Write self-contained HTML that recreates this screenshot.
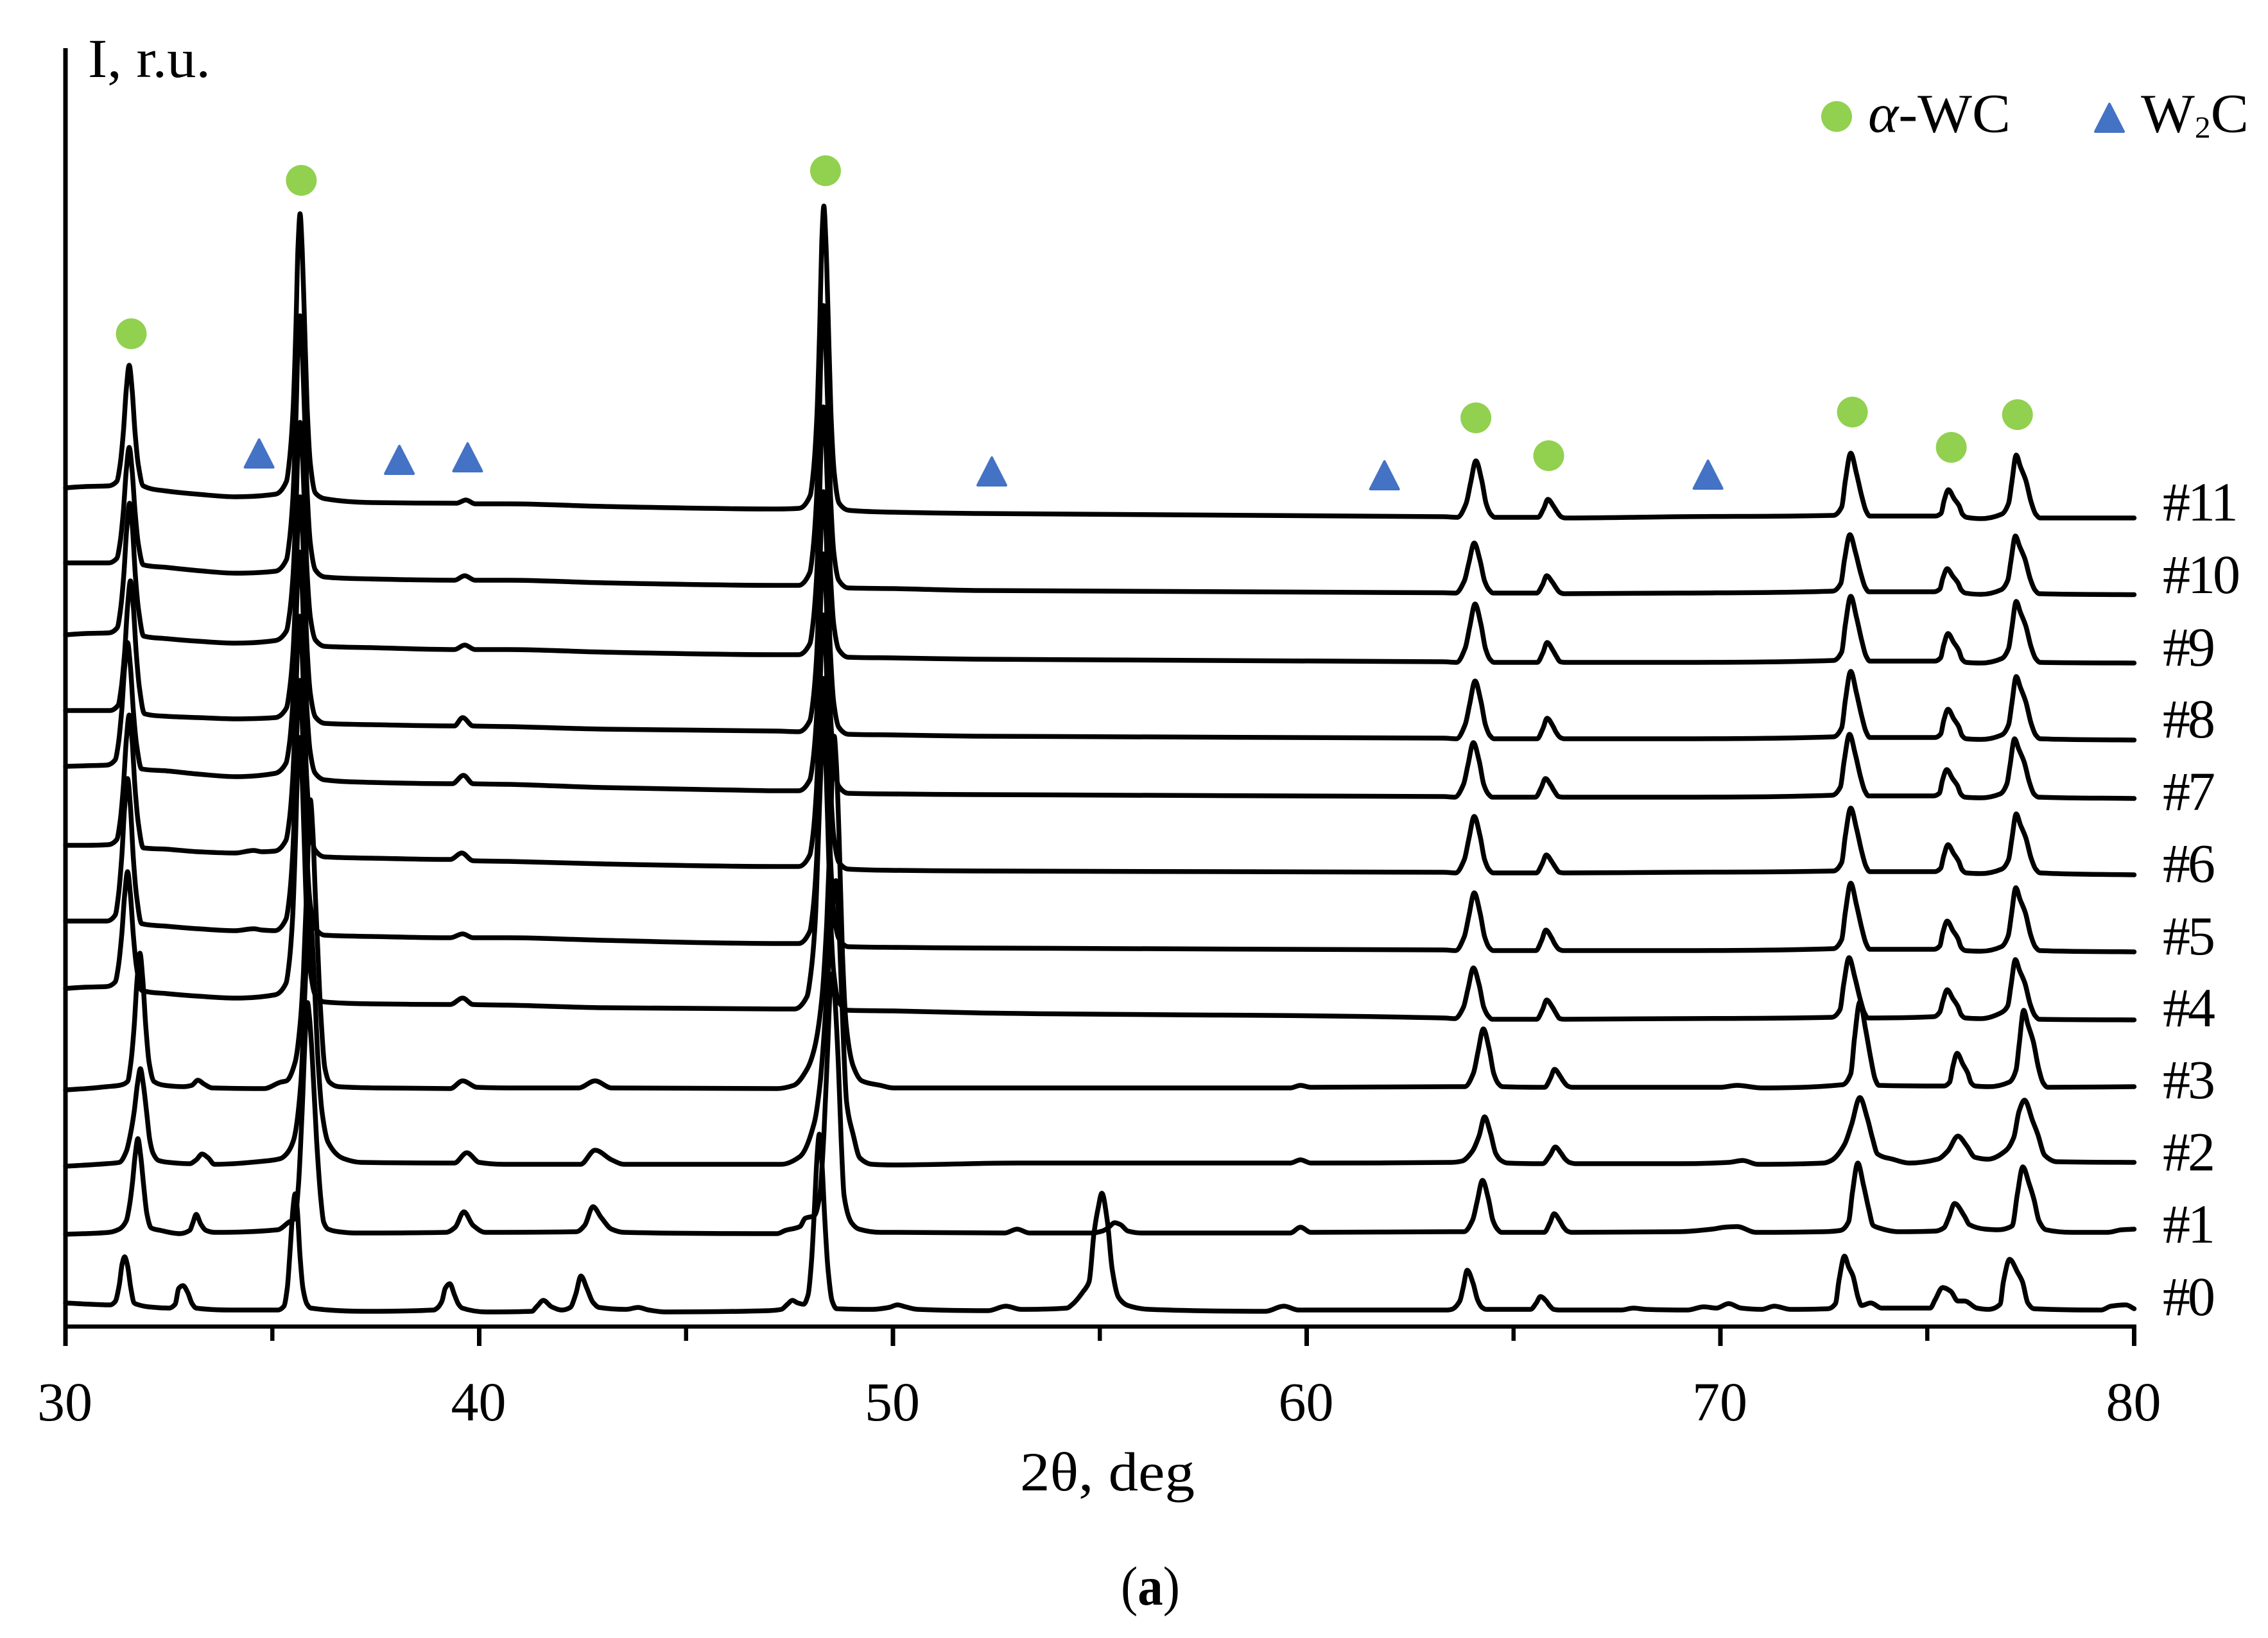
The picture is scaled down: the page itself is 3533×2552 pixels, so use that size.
<!DOCTYPE html>
<html lang="en">
<head>
<meta charset="utf-8">
<title>XRD patterns #0–#11</title>
<style>
html,body{margin:0;padding:0;background:#fff;}
svg{display:block;font-family:"Liberation Serif",serif;}
text{fill:#000;}
</style>
</head>
<body>
<svg id="chart" xmlns="http://www.w3.org/2000/svg" width="3533" height="2552" viewBox="0 0 3533 2552">
  <rect width="3533" height="2552" fill="#fff"/>
  <g id="series-layer"></g>
  <g id="marker-layer"></g>
  <g id="axis-layer"></g>
  <g id="label-layer"></g>
  <text x="137" y="120" font-size="86" textLength="191" lengthAdjust="spacingAndGlyphs">I, r.u.</text>
  <text x="1589" y="2322" font-size="86" textLength="272" lengthAdjust="spacingAndGlyphs">2θ, deg</text>
  <text x="1746" y="2500" font-size="86" textLength="92" lengthAdjust="spacingAndGlyphs">(<tspan font-weight="bold">a</tspan>)</text>
  <g>
    <circle cx="2861" cy="181.5" r="24" fill="#92D050"/>
    <text x="2910" y="205.5" font-size="86" textLength="222" lengthAdjust="spacingAndGlyphs"><tspan font-style="italic">α</tspan>-WC</text>
    <polygon points="3286,162 3308,205 3264,205" fill="#4472C4" stroke="#4472C4" stroke-width="4" stroke-linejoin="round"/>
    <text x="3335" y="205.5" font-size="86" textLength="168" lengthAdjust="spacingAndGlyphs">W<tspan font-size="48" dy="9">2</tspan><tspan dy="-9">C</tspan></text>
  </g>
</svg>
<script>
const xTickValues = [30, 40, 50, 60, 70, 80];
const xMinorTickValues = [35, 45, 55, 65, 75];
const seriesLabels = ['#0','#1','#2','#3','#4','#5','#6','#7','#8','#9','#10','#11'];
const labelIntensity = [1.8, 13.1, 24.35, 35.6, 46.8, 58, 69.3, 80.5, 91.8, 103, 114.3, 125.6];

// phase markers: [2θ, intensity]
const wcMarkers = [[31.59,154.7],[35.70,178.6],[48.37,180.1],[64.09,141.6],[65.85,135.7],[73.19,142.5],[75.58,137],[77.18,142.1]];
const w2cMarkers = [[34.68,133.7],[38.07,132.7],[39.72,133.1],[52.39,130.9],[61.88,130.3],[69.70,130.4]];

// diffraction patterns: [2θ, intensity]
const series0 = [[30,3.7],[30.6,3.5],[31.08,3.4],[31.2,3.9],[31.3,6.5],[31.37,9.8],[31.43,10.9],[31.5,9.5],[31.58,6],[31.66,3.7],[31.72,3.5],[32,3.1],[32.5,2.9],[32.65,3.5],[32.74,6],[32.84,6.4],[32.95,5.4],[33.06,3.6],[33.16,2.9],[34,2.6],[35.13,2.6],[35.28,3.2],[35.36,6],[35.43,12],[35.5,18.5],[35.55,20.7],[35.6,18.5],[35.67,11],[35.74,6],[35.84,3.5],[35.93,2.9],[37.3,2.4],[38.9,2.6],[39,3],[39.1,4],[39.18,6],[39.29,6.7],[39.4,5],[39.5,3.5],[39.59,2.9],[40.18,2.3],[41.27,2.4],[41.4,3.2],[41.55,4.1],[41.75,3.1],[42,2.6],[42.2,3],[42.33,5],[42.46,7.9],[42.6,6],[42.75,3.8],[42.9,3],[43.55,2.7],[43.84,3],[44.1,2.6],[44.5,2.3],[47,2.5],[47.3,2.7],[47.45,3.5],[47.57,4.1],[47.7,3.7],[47.84,3.5],[47.95,5],[48.03,10],[48.1,18],[48.17,27],[48.22,30],[48.28,26],[48.35,17],[48.43,9],[48.53,4],[48.64,2.8],[49.5,2.7],[49.9,3],[50.11,3.4],[50.3,3.1],[50.6,2.7],[52.3,2.5],[52.73,3.2],[53.1,2.7],[54.2,2.9],[54.34,3.5],[54.6,5.5],[54.74,7],[54.86,14.6],[54.96,18.5],[55.05,20.8],[55.18,16.5],[55.3,8.9],[55.45,4.6],[55.68,3.3],[56.2,2.7],[59,2.4],[59.45,3.2],[59.8,2.6],[63.4,2.6],[63.5,2.7],[63.7,4],[63.78,6],[63.88,8.8],[64.02,6.8],[64.13,4.2],[64.24,3],[64.34,2.7],[65.41,2.7],[65.55,3.7],[65.65,4.7],[65.79,4],[65.87,3.3],[65.97,2.7],[66.1,2.6],[67.6,2.6],[67.9,2.9],[68.2,2.7],[69.2,2.6],[69.6,3.1],[69.9,2.9],[70.2,3.6],[70.5,2.9],[71,2.7],[71.3,3.2],[71.7,2.7],[72.6,2.8],[72.78,3.6],[72.87,7.4],[73,11],[73.1,9.3],[73.2,8],[73.33,4.5],[73.41,3.3],[73.63,3.7],[73.9,2.9],[75.07,2.9],[75.19,4.2],[75.37,6.1],[75.57,5.5],[75.74,4],[75.9,4],[76.2,2.9],[76.47,2.7],[76.76,3.5],[76.84,7],[76.99,10.5],[77.18,8.5],[77.3,7],[77.43,3.7],[77.58,2.8],[79.2,2.6],[79.44,3.2],[79.8,3.4],[80,2.8]];

const series1 = [[30,14.4],[31.05,14.7],[31.3,15.2],[31.47,16.5],[31.55,19],[31.62,22.5],[31.68,26.5],[31.75,29.3],[31.82,26.5],[31.89,22],[31.97,17.5],[32.07,15.4],[32.3,15],[32.76,14.5],[33,15],[33.08,16.2],[33.16,17.5],[33.27,16],[33.4,15],[33.6,14.7],[35.13,15.1],[35.4,16.3],[35.55,16.9],[35.63,22],[35.72,33.6],[35.8,46],[35.85,50.5],[35.9,48],[35.96,42.5],[36.07,29],[36.17,20],[36.24,16.3],[36.35,15.2],[36.6,14.8],[37,14.6],[39.2,14.7],[39.42,15.5],[39.63,17.9],[39.85,15.8],[40.15,14.7],[42.35,14.8],[42.55,15.8],[42.75,18.7],[42.95,17],[43.2,15.2],[43.5,14.7],[47.2,14.5],[47.4,15],[47.75,15.6],[47.88,16.9],[48.1,17.3],[48.23,20.4],[48.33,29.9],[48.42,43],[48.48,52],[48.53,55],[48.58,52.5],[48.68,41],[48.75,29],[48.82,20.4],[49,16.2],[49.18,15.2],[49.7,14.7],[50,14.7],[52.7,14.6],[53,15.2],[53.3,14.6],[54.8,14.6],[55.06,14.9],[55.2,15.4],[55.36,16.2],[55.5,15.9],[55.68,14.9],[56,14.6],[59.6,14.6],[59.85,15.5],[60.1,14.7],[63.5,14.8],[63.8,14.8],[64.01,16.6],[64.12,19.5],[64.25,22.8],[64.39,20],[64.5,16.6],[64.61,15.2],[64.71,14.7],[65.74,14.7],[65.88,16.2],[65.98,17.6],[66.12,16.5],[66.2,15.6],[66.3,14.9],[66.4,14.7],[69,14.8],[69.8,15.2],[70.1,15.5],[70.4,15.6],[70.86,14.7],[72.5,14.8],[72.9,15],[73.1,16.4],[73.19,20.9],[73.32,25.5],[73.46,22],[73.59,18.2],[73.69,15.8],[73.78,15.5],[74.3,14.8],[75.2,14.9],[75.4,15.4],[75.52,17],[75.66,19.2],[75.9,17.2],[76.02,15.9],[76.4,15.2],[76.7,15.1],[77.05,15.7],[77.18,20.8],[77.31,24.9],[77.46,22.3],[77.58,19.8],[77.7,16.5],[77.87,15.1],[78.5,14.7],[79.35,14.7],[79.7,15.1],[80,15.2]];

const series2 = [[30,25],[31,25.4],[31.3,25.6],[31.47,27.3],[31.57,30],[31.66,33.5],[31.74,37.8],[31.81,40.2],[31.88,37.8],[31.96,33.5],[32.04,29],[32.12,27],[32.25,25.9],[32.5,25.6],[33,25.4],[33.16,26],[33.3,26.9],[33.45,26.3],[33.6,25.3],[34.8,25.8],[35.2,26.2],[35.34,26.9],[35.51,29],[35.69,38],[35.76,48],[35.84,60],[35.9,66.4],[35.95,62],[36.02,53],[36.1,42],[36.2,33.5],[36.35,28.7],[36.72,26.2],[37.14,25.6],[39.4,25.5],[39.7,27.1],[40,25.6],[40.6,25.3],[42.45,25.3],[42.8,27.5],[43.2,26],[43.5,25.3],[47.3,25.3],[47.75,26.5],[48.1,31.8],[48.24,38],[48.34,46],[48.44,56],[48.54,65],[48.62,69.5],[48.67,66],[48.74,55],[48.8,45],[48.88,35],[49.04,29.9],[49.2,26.3],[49.5,25.3],[50,25.2],[53,25.5],[59.6,25.5],[59.85,26],[60.1,25.5],[63.5,25.6],[63.75,25.8],[64,27.3],[64.17,29.8],[64.3,32.7],[64.44,30.2],[64.57,27],[64.7,25.9],[64.85,25.5],[65.7,25.4],[65.88,26.7],[66.01,28],[66.15,27],[66.25,26.1],[66.35,25.6],[66.5,25.4],[69,25.4],[70.2,25.6],[70.54,25.9],[70.9,25.3],[72.5,25.5],[72.68,25.9],[73,28.4],[73.17,31.5],[73.37,35.7],[73.55,32.5],[73.67,29.5],[73.8,26.9],[74.16,26.1],[74.57,25.5],[75.25,26.1],[75.5,27.4],[75.74,29.7],[75.95,28.2],[76.15,26.4],[76.47,26.1],[76.89,27.4],[77.09,29.5],[77.22,33.6],[77.35,35.3],[77.55,32],[77.67,30],[77.84,26.7],[78.13,25.7],[80,25.6]];

const series3 = [[30,36.9],[30.5,37.1],[31,37.4],[31.3,37.6],[31.5,38.2],[31.58,41.1],[31.66,46.8],[31.73,54],[31.8,58.2],[31.87,54],[31.94,46.9],[32.02,41.2],[32.14,38.2],[32.4,37.6],[32.85,37.4],[33.05,37.6],[33.2,38.4],[33.35,37.8],[33.55,37.2],[34.8,37.1],[35.2,38.1],[35.34,38.3],[35.55,41.2],[35.67,47],[35.75,55],[35.84,70],[35.92,82.1],[35.98,77],[36.04,67],[36.09,60],[36.16,50],[36.27,40.3],[36.38,38.1],[36.6,37.4],[37.5,37.2],[39.3,37.1],[39.6,38.3],[39.95,37.3],[40.7,37.2],[42.4,37.2],[42.8,38.3],[43.2,37.2],[47.2,37.1],[47.6,37.6],[47.93,40.2],[48.1,43.3],[48.28,51],[48.4,63],[48.5,80],[48.58,92],[48.63,88],[48.7,76],[48.78,58],[48.87,47],[49.04,40.6],[49.25,38.3],[49.7,37.6],[50,37.2],[59.6,37.2],[59.85,37.6],[60.1,37.3],[63.5,37.4],[63.82,37.4],[64.03,39.5],[64.14,42.8],[64.27,46.4],[64.41,43.3],[64.52,39.5],[64.63,37.9],[64.73,37.4],[65.75,37.3],[65.89,38.7],[65.99,40.1],[66.13,39],[66.21,38.2],[66.31,37.5],[66.41,37.3],[70,37.3],[70.4,37.6],[71,37.2],[72.95,37.7],[73.15,39.4],[73.24,44.9],[73.37,50.6],[73.51,46.3],[73.64,41.6],[73.74,38.6],[73.83,37.6],[75.4,37.5],[75.54,38.1],[75.62,40.6],[75.72,42.6],[75.86,40.9],[75.98,39.5],[76.06,38],[76.16,37.5],[76.5,37.4],[76.98,38.1],[77.145,40],[77.22,43.9],[77.33,49.3],[77.43,47.1],[77.56,44.5],[77.69,40.3],[77.8,38],[77.91,37.3],[80,37.4]];

const series4 = [[30,52.7],[30.5,52.9],[31,53],[31.2,53.7],[31.28,56.2],[31.36,61.1],[31.43,67.3],[31.5,70.9],[31.57,67.3],[31.64,61],[31.72,55.9],[31.84,52.4],[32.44,51.9],[33.2,51.5],[34.1,51.2],[35.06,51.7],[35.33,53.5],[35.41,56.9],[35.49,63.7],[35.56,75.8],[35.61,87],[35.66,91.8],[35.71,86.9],[35.76,77.8],[35.83,64.2],[35.91,56],[36.03,51.8],[36.26,50.6],[37.4,50.3],[39.3,50.2],[39.6,51.2],[39.85,50.2],[40.7,50.1],[43,49.7],[47.2,49.5],[47.62,49.5],[47.92,51.4],[48.02,55.3],[48.12,62.9],[48.2,76.5],[48.27,89.1],[48.32,94.5],[48.37,89.1],[48.42,79.1],[48.49,64.1],[48.57,55.1],[48.69,50.6],[48.92,49.3],[50,49.2],[52,48.9],[63.31,48.1],[63.58,48],[63.79,49.8],[63.9,52.7],[64.03,55.9],[64.17,53.2],[64.28,49.8],[64.39,48.4],[64.49,47.9],[65.56,47.9],[65.7,49.4],[65.8,50.9],[65.94,49.8],[66.02,48.9],[66.12,48],[66.22,47.9],[69,48],[72.69,48.2],[72.89,49.4],[72.98,53.4],[73.11,57.5],[73.25,54.4],[73.38,51],[73.48,48.9],[73.57,48.1],[75.16,48.3],[75.3,49],[75.38,50.8],[75.48,52.5],[75.62,51.1],[75.74,49.9],[75.82,48.6],[75.92,48.1],[76.3,48],[76.78,48.9],[76.945,50],[77.02,53],[77.13,57.2],[77.23,55.5],[77.36,53.5],[77.49,50.2],[77.6,48.5],[77.71,47.9],[80,47.8]];

const series5 = [[30,63.2],[30.5,63.2],[31,63.2],[31.2,64.1],[31.28,67.2],[31.36,73.2],[31.43,81],[31.5,85.4],[31.57,81],[31.64,73],[31.72,67],[31.84,62.8],[32.44,62.4],[33.2,62],[34.1,61.7],[34.55,62],[34.75,61.8],[35.06,61.7],[35.33,63.5],[35.41,66.8],[35.49,73.4],[35.56,85.1],[35.61,96],[35.66,100.7],[35.71,95.9],[35.76,87.2],[35.83,74.1],[35.91,66.2],[36.03,62.2],[36.26,61],[37.4,60.8],[39.3,60.6],[39.6,61.2],[39.85,60.6],[40.7,60.6],[43,60.2],[47.2,59.7],[47.72,59.7],[47.99,61.6],[48.07,65.1],[48.15,72.1],[48.22,84.5],[48.27,96],[48.32,101],[48.37,96],[48.42,86.8],[48.49,73],[48.57,64.6],[48.69,60.5],[48.92,59.2],[50,59.1],[52,59],[63.31,58.7],[63.6,58.6],[63.81,60.8],[63.92,64],[64.05,67.6],[64.19,64.5],[64.3,60.8],[64.41,59.1],[64.51,58.6],[65.54,58.6],[65.68,60.2],[65.78,61.8],[65.92,60.6],[66,59.6],[66.1,58.8],[66.2,58.6],[69,58.6],[72.73,58.9],[72.93,60.3],[73.02,64.6],[73.15,69.1],[73.29,65.7],[73.42,62],[73.52,59.7],[73.61,58.8],[75.16,58.8],[75.3,59.3],[75.38,61.5],[75.48,63.2],[75.62,61.7],[75.74,60.5],[75.82,59.1],[75.92,58.6],[76.3,58.5],[76.79,59.2],[76.955,60.9],[77.03,64],[77.14,68.4],[77.24,66.6],[77.37,64.5],[77.5,61],[77.61,59.2],[77.72,58.6],[80,58.4]];

const series6 = [[30,75],[30.5,75],[31.04,75.1],[31.24,75.9],[31.32,78.7],[31.4,84.2],[31.47,91.3],[31.54,95.3],[31.61,91.3],[31.68,84],[31.76,78.5],[31.88,74.6],[32.44,74.4],[33.2,74],[34.1,73.8],[34.55,74.2],[34.75,74],[35.06,74.1],[35.33,75.8],[35.41,78.9],[35.49,85.1],[35.56,96.1],[35.61,106.3],[35.66,110.7],[35.71,106.2],[35.76,98],[35.83,85.6],[35.91,78.1],[36.03,74.3],[36.26,73.2],[37.4,73],[39.3,72.8],[39.58,73.8],[39.85,72.6],[40.7,72.5],[43,72.1],[47.2,71.7],[47.72,71.7],[47.99,73.5],[48.07,76.8],[48.15,83.5],[48.22,95.2],[48.27,106.2],[48.32,110.9],[48.37,106.1],[48.42,97.4],[48.49,84.3],[48.57,76.4],[48.69,72.4],[48.92,71.3],[50,71.1],[52,71],[63.31,70.8],[63.6,70.7],[63.81,72.8],[63.92,76],[64.05,79.5],[64.19,76.5],[64.3,72.8],[64.41,71.2],[64.51,70.7],[65.55,70.7],[65.69,72.1],[65.79,73.5],[65.93,72.4],[66.01,71.6],[66.11,70.8],[66.21,70.7],[69,70.8],[72.73,71],[72.93,72.3],[73.02,76.5],[73.15,80.8],[73.29,77.6],[73.42,73.9],[73.52,71.7],[73.61,70.9],[75.18,70.9],[75.32,71.4],[75.4,73.4],[75.5,75.1],[75.64,73.7],[75.76,72.5],[75.84,71.2],[75.94,70.7],[76.3,70.6],[76.8,71.3],[76.965,72.8],[77.04,75.8],[77.15,79.9],[77.25,78.2],[77.38,76.2],[77.51,73],[77.62,71.3],[77.73,70.7],[80,70.4]];

const series7 = [[30,87.3],[30.5,87.4],[31,87.5],[31.2,88.3],[31.28,90.9],[31.36,96.1],[31.43,102.8],[31.5,106.6],[31.57,102.8],[31.64,96],[31.72,90.6],[31.84,86.9],[32.44,86.6],[33.2,86.1],[34.1,85.7],[35.06,86.2],[35.33,87.8],[35.41,90.7],[35.49,96.6],[35.56,106.9],[35.61,116.6],[35.66,120.7],[35.71,116.4],[35.76,108.6],[35.83,96.9],[35.91,89.8],[36.03,86.3],[36.26,85.2],[37.4,84.8],[39.35,84.6],[39.62,85.9],[39.85,84.6],[40.7,84.5],[43,84],[46.25,83.6],[47.2,83.5],[47.72,83.5],[47.99,85.2],[48.07,88.3],[48.15,94.6],[48.22,105.6],[48.27,116],[48.32,120.4],[48.37,115.9],[48.42,107.7],[48.49,95.4],[48.57,88],[48.69,84.2],[48.92,83.1],[50,83],[52,82.9],[63.31,82.6],[63.58,82.5],[63.79,84.5],[63.9,87.6],[64.03,91],[64.17,88.1],[64.28,84.5],[64.39,83],[64.49,82.5],[65.53,82.5],[65.67,84],[65.77,85.4],[65.91,84.3],[65.99,83.4],[66.09,82.6],[66.19,82.5],[69,82.5],[72.7,82.8],[72.9,84.1],[72.99,88.1],[73.12,92.3],[73.26,89.2],[73.39,85.6],[73.49,83.5],[73.58,82.7],[75.15,82.7],[75.29,83.1],[75.37,85.2],[75.47,86.8],[75.61,85.4],[75.73,84.3],[75.81,83],[75.91,82.5],[76.3,82.4],[76.76,83],[76.925,84.6],[77,87.5],[77.11,91.6],[77.21,90],[77.34,88],[77.47,84.8],[77.58,83],[77.69,82.5],[80,82.3]];

const series8 = [[30,96],[30.5,96],[31.07,96],[31.27,96.8],[31.35,99.6],[31.43,105.1],[31.5,112.2],[31.57,116.2],[31.64,112.2],[31.71,105],[31.79,99.4],[31.91,95.5],[32.44,95.1],[33.2,94.9],[34.1,94.7],[35.07,94.9],[35.34,96.4],[35.42,99.4],[35.5,105.2],[35.57,115.5],[35.62,125.2],[35.67,129.3],[35.72,125.1],[35.77,117.3],[35.84,105.6],[35.92,98.6],[36.04,95],[36.27,94],[37.4,93.8],[39.4,93.6],[39.6,94.9],[39.85,93.6],[40.7,93.5],[43,93.1],[47.2,92.8],[47.72,92.7],[47.99,94.4],[48.07,97.6],[48.15,103.9],[48.22,115.1],[48.27,125.6],[48.32,130.1],[48.37,125.6],[48.42,117.2],[48.49,104.8],[48.57,97.2],[48.69,93.4],[48.92,92.3],[50,92.2],[52,92],[63.31,91.7],[63.62,91.6],[63.83,93.8],[63.94,97],[64.07,100.6],[64.21,97.5],[64.32,93.8],[64.43,92.1],[64.53,91.6],[65.57,91.6],[65.71,93.2],[65.81,94.8],[65.95,93.6],[66.03,92.6],[66.13,91.8],[66.23,91.6],[69,91.6],[72.73,91.9],[72.93,93.3],[73.02,97.6],[73.15,102.1],[73.29,98.7],[73.42,95],[73.52,92.7],[73.61,91.8],[75.18,91.8],[75.32,92.3],[75.4,94.5],[75.5,96.2],[75.64,94.7],[75.76,93.5],[75.84,92.1],[75.94,91.6],[76.3,91.5],[76.8,92.2],[76.965,93.8],[77.04,96.9],[77.15,101.3],[77.25,99.6],[77.38,97.4],[77.51,94],[77.62,92.2],[77.73,91.6],[80,91.4]];

const series9 = [[30,107.8],[30.5,108],[31.05,108.1],[31.25,108.9],[31.33,111.7],[31.41,117.2],[31.48,124.3],[31.55,128.3],[31.62,124.3],[31.69,117],[31.77,111.5],[31.89,107.6],[32.44,107.2],[33.2,106.8],[34.1,106.5],[35.07,106.9],[35.34,108.4],[35.42,111.3],[35.5,117.1],[35.57,127.3],[35.62,136.8],[35.67,140.9],[35.72,136.7],[35.77,129],[35.84,117.5],[35.92,110.5],[36.04,107],[36.27,106],[37.4,105.8],[39.4,105.5],[39.65,106.2],[39.9,105.5],[40.7,105.5],[43,105.1],[47.2,104.7],[47.72,104.7],[47.99,106.4],[48.07,109.7],[48.15,116.3],[48.22,127.9],[48.27,138.7],[48.32,143.3],[48.37,138.6],[48.42,130],[48.49,117.2],[48.57,109.4],[48.69,105.5],[48.92,104.3],[50,104.2],[52,104],[63.31,103.6],[63.62,103.5],[63.83,105.7],[63.94,109],[64.07,112.6],[64.21,109.5],[64.32,105.7],[64.43,104],[64.53,103.5],[65.57,103.5],[65.71,105],[65.81,106.6],[65.95,105.4],[66.03,104.5],[66.13,103.6],[66.23,103.5],[69,103.5],[72.73,103.8],[72.93,105.1],[73.02,109.4],[73.15,113.8],[73.29,110.5],[73.42,106.8],[73.52,104.5],[73.61,103.7],[75.18,103.7],[75.32,104.2],[75.4,106.3],[75.5,108],[75.64,106.6],[75.76,105.4],[75.84,104],[75.94,103.5],[76.3,103.4],[76.8,104.1],[76.965,105.7],[77.04,108.7],[77.15,113],[77.25,111.3],[77.38,109.2],[77.51,105.9],[77.62,104.1],[77.73,103.5],[80,103.4]];

const series10 = [[30,119],[30.5,119],[31.04,119],[31.24,119.7],[31.32,122.2],[31.4,127.1],[31.47,133.4],[31.54,137],[31.61,133.4],[31.68,127.1],[31.76,122],[31.88,118.7],[32.44,118.3],[33.2,117.8],[34.1,117.4],[35.07,117.7],[35.34,119.5],[35.42,122.9],[35.5,129.6],[35.57,141.6],[35.62,152.7],[35.67,157.5],[35.72,152.6],[35.77,143.6],[35.84,130.2],[35.92,122],[36.04,117.9],[36.27,116.8],[37.4,116.5],[39.4,116.3],[39.65,117],[39.9,116.3],[40.7,116.3],[43,115.9],[47.2,115.5],[47.72,115.5],[47.99,117.5],[48.07,121.2],[48.15,128.6],[48.22,141.7],[48.27,153.9],[48.32,159.1],[48.37,153.8],[48.42,144.1],[48.49,129.6],[48.57,120.7],[48.69,116.3],[48.92,115.1],[50,115],[52,114.7],[63.31,114.35],[63.6,114.3],[63.81,116.2],[63.92,119],[64.05,122.1],[64.19,119.4],[64.3,116.2],[64.41,114.8],[64.51,114.3],[65.56,114.3],[65.7,115.6],[65.8,117],[65.94,116],[66.02,115.2],[66.12,114.4],[66.22,114.2],[69,114.3],[72.71,114.6],[72.91,115.8],[73,119.5],[73.13,123.4],[73.27,120.5],[73.4,117.2],[73.5,115.2],[73.59,114.5],[75.16,114.5],[75.3,114.9],[75.38,116.7],[75.48,118.1],[75.62,116.9],[75.74,115.9],[75.82,114.8],[75.92,114.3],[76.3,114.1],[76.78,114.8],[76.945,116.3],[77.02,119.2],[77.13,123.2],[77.23,121.6],[77.36,119.6],[77.49,116.5],[77.6,114.8],[77.71,114.2],[80,114.05]];

const series11 = [[30,130.7],[30.5,130.9],[31.04,131],[31.24,131.7],[31.32,134.3],[31.4,139.4],[31.47,146],[31.54,149.8],[31.61,146],[31.68,139.4],[31.76,134.3],[31.88,131],[32.44,130.2],[33.2,129.7],[34.1,129.3],[35.07,129.7],[35.34,131.7],[35.42,135.4],[35.5,142.8],[35.57,155.9],[35.62,168.2],[35.67,173.4],[35.72,168],[35.77,158.2],[35.84,143.4],[35.92,134.4],[36.04,129.9],[36.27,129],[37.4,128.4],[39.45,128.3],[39.68,128.8],[39.9,128.2],[40.7,128.2],[43,127.8],[47.2,127.4],[47.73,127.5],[48,129.5],[48.08,133.5],[48.16,141.6],[48.23,155.7],[48.28,169],[48.33,174.6],[48.38,168.9],[48.43,158.4],[48.5,142.6],[48.58,133.1],[48.7,128.3],[48.93,127.2],[50,126.9],[52,126.7],[63.31,126.2],[63.64,126.1],[63.85,128.2],[63.96,131.4],[64.09,134.9],[64.23,131.9],[64.34,128.2],[64.45,126.6],[64.55,126.1],[65.59,126.1],[65.73,127.5],[65.83,128.9],[65.97,127.8],[66.05,127],[66.15,126.2],[66.25,126],[69,126.2],[72.73,126.4],[72.93,127.7],[73.02,131.8],[73.15,136.1],[73.29,132.9],[73.42,129.3],[73.52,127.1],[73.61,126.3],[75.19,126.3],[75.33,126.7],[75.41,128.8],[75.51,130.4],[75.65,129],[75.77,127.9],[75.85,126.6],[75.95,126.1],[76.3,125.9],[76.8,126.6],[76.965,128.3],[77.04,131.4],[77.15,135.8],[77.25,134],[77.38,131.9],[77.51,128.5],[77.62,126.6],[77.73,126],[80,126]];

const allSeries = [series0,series1,series2,series3,series4,series5,series6,series7,series8,series9,series10,series11];

const SVGNS = 'http://www.w3.org/2000/svg';
function xScale(t){ return 102 + (t - 30) * 64.45; }
function yScale(v){ return 2067 - v * 10; }

function make(tag, attrs){
  const el = document.createElementNS(SVGNS, tag);
  for (const k in attrs) el.setAttribute(k, attrs[k]);
  return el;
}

// monotone cubic path through the scaled points
function monotonePath(pts){
  const xs = pts.map(p => xScale(p[0]));
  const ys = pts.map(p => yScale(p[1]));
  const n = xs.length;
  const dx = [], m = [], t = new Array(n);
  for (let i = 0; i < n - 1; i++){
    dx[i] = xs[i+1] - xs[i];
    m[i] = (ys[i+1] - ys[i]) / dx[i];
  }
  t[0] = m[0];
  t[n-1] = m[n-2];
  for (let i = 1; i < n - 1; i++){
    if (m[i-1] * m[i] <= 0) { t[i] = 0; }
    else {
      const w1 = 2 * dx[i] + dx[i-1], w2 = dx[i] + 2 * dx[i-1];
      t[i] = (w1 + w2) / (w1 / m[i-1] + w2 / m[i]);
    }
  }
  let d = 'M' + xs[0].toFixed(1) + ' ' + ys[0].toFixed(1);
  for (let i = 0; i < n - 1; i++){
    const h = dx[i] / 3;
    d += 'C' + (xs[i] + h).toFixed(1) + ' ' + (ys[i] + t[i] * h).toFixed(1) + ' ' +
         (xs[i+1] - h).toFixed(1) + ' ' + (ys[i+1] - t[i+1] * h).toFixed(1) + ' ' +
         xs[i+1].toFixed(1) + ' ' + ys[i+1].toFixed(1);
  }
  return d;
}

const seriesLayer = document.getElementById('series-layer');
allSeries.forEach(function(pts, i){
  const path = make('path', {d: monotonePath(pts), fill: 'none', stroke: '#000', 'stroke-width': 7.5, 'stroke-linejoin': 'round', 'stroke-linecap': 'round'});
  
  
  seriesLayer.appendChild(path);
});

const markerLayer = document.getElementById('marker-layer');
wcMarkers.forEach(function(p){
  const c = make('circle', {cx: xScale(p[0]), cy: yScale(p[1]), r: 24, fill: '#92D050'});
  
  
  markerLayer.appendChild(c);
});
w2cMarkers.forEach(function(p){
  const x = xScale(p[0]), y = yScale(p[1]);
  const pts = [[x, y - 45], [x - 22, y - 2], [x + 22, y - 2]].map(q => q.join(',')).join(' ');
  const t = make('polygon', {points: pts, fill: '#4472C4', stroke: '#4472C4', 'stroke-width': 4, 'stroke-linejoin': 'round'});
  
  
  markerLayer.appendChild(t);
});

const axisLayer = document.getElementById('axis-layer');
const yAxisLine = make('rect', {x: 98.5, y: 75, width: 7, height: 2022, fill: '#000'});


axisLayer.appendChild(yAxisLine);
const xAxisLine = make('rect', {x: 98.5, y: 2063.5, width: xScale(80) - 98.5 + 3.5, height: 6.5, fill: '#000'});


axisLayer.appendChild(xAxisLine);
xTickValues.forEach(function(v){
  const tick = make('rect', {x: xScale(v) - 3.5, y: 2066, width: 7, height: 31, fill: '#000'});
  
  
  axisLayer.appendChild(tick);
  const label = make('text', {x: xScale(v) - 1, y: 2213, 'font-size': 86, 'text-anchor': 'middle'});
  label.textContent = String(v);
  
  
  axisLayer.appendChild(label);
});
xMinorTickValues.forEach(function(v){
  const tick = make('rect', {x: xScale(v) - 3.25, y: 2066, width: 6.5, height: 23, fill: '#000'});
  
  
  axisLayer.appendChild(tick);
});

const labelLayer = document.getElementById('label-layer');
seriesLabels.forEach(function(s, i){
  const label = make('text', {x: 3369, y: yScale(labelIntensity[i]), 'font-size': 86, 'letter-spacing': -4});
  label.textContent = s;
  
  
  labelLayer.appendChild(label);
});
</script>
</body>
</html>
